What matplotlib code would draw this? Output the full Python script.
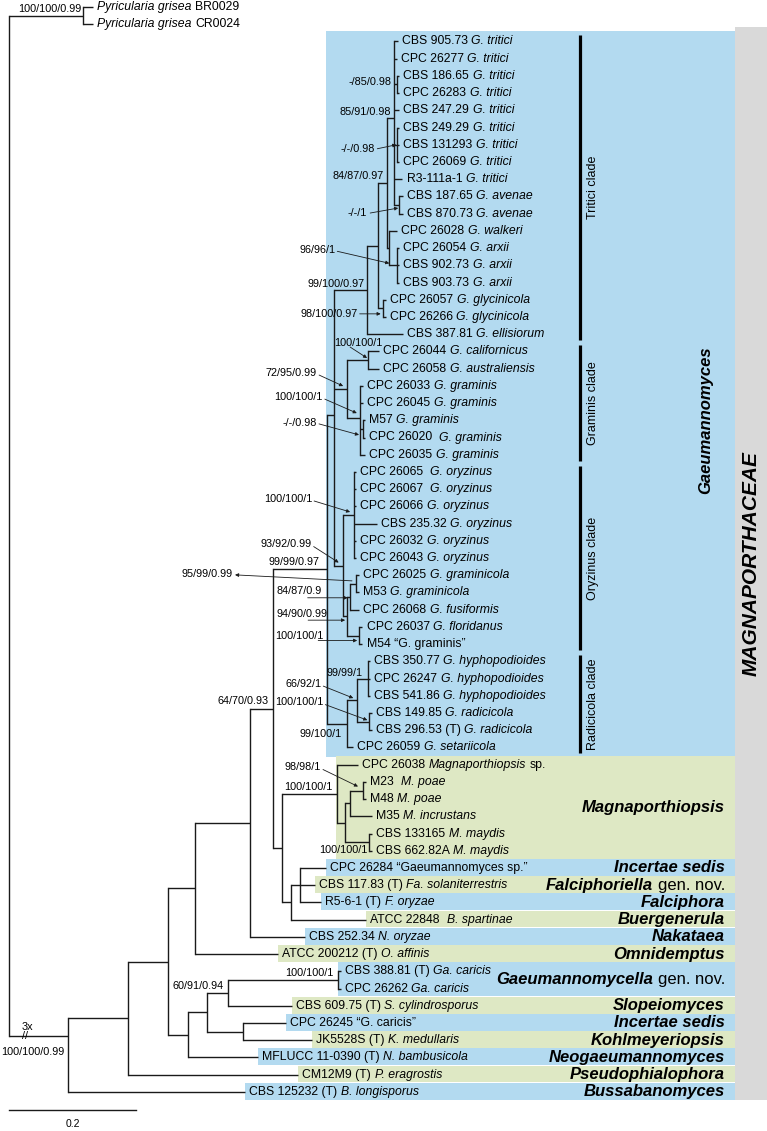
import matplotlib
matplotlib.use("Agg")
import matplotlib.pyplot as plt
from matplotlib.patches import Rectangle

plt.rcParams["font.family"] = ["Liberation Sans", "DejaVu Sans"]

# ---- data -------------------------------------------------------------
# tip labels, top to bottom; text between underscores is italic
TIP_LABELS = [
    "_Pyricularia grisea_ BR0029", "_Pyricularia grisea_ CR0024",
    "CBS 905.73 _G. tritici_", "CPC 26277 _G. tritici_", "CBS 186.65 _G. tritici_",
    "CPC 26283 _G. tritici_", "CBS 247.29 _G. tritici_", "CBS 249.29 _G. tritici_",
    "CBS 131293 _G. tritici_", "CPC 26069 _G. tritici_", "R3-111a-1 _G. tritici_",
    "CBS 187.65 _G. avenae_", "CBS 870.73 _G. avenae_", "CPC 26028 _G. walkeri_",
    "CPC 26054 _G. arxii_", "CBS 902.73 _G. arxii_", "CBS 903.73 _G. arxii_",
    "CPC 26057 _G. glycinicola_", "CPC 26266 _G. glycinicola_", "CBS 387.81 _G. ellisiorum_",
    "CPC 26044 _G. californicus_", "CPC 26058 _G. australiensis_", "CPC 26033 _G. graminis_",
    "CPC 26045 _G. graminis_", "M57 _G. graminis_", "CPC 26020  _G. graminis_",
    "CPC 26035 _G. graminis_", "CPC 26065  _G. oryzinus_", "CPC 26067  _G. oryzinus_",
    "CPC 26066 _G. oryzinus_", "CBS 235.32 _G. oryzinus_", "CPC 26032 _G. oryzinus_",
    "CPC 26043 _G. oryzinus_", "CPC 26025 _G. graminicola_", "M53 _G. graminicola_",
    "CPC 26068 _G. fusiformis_", "CPC 26037 _G. floridanus_", "M54 \u201cG. graminis\u201d",
    "CBS 350.77 _G. hyphopodioides_", "CPC 26247 _G. hyphopodioides_",
    "CBS 541.86 _G. hyphopodioides_", "CBS 149.85 _G. radicicola_",
    "CBS 296.53 (T) _G. radicicola_", "CPC 26059 _G. setariicola_",
    "CPC 26038 _Magnaporthiopsis_ sp.", "M23  _M. poae_", "M48 _M. poae_",
    "M35 _M. incrustans_", "CBS 133165 _M. maydis_", "CBS 662.82A _M. maydis_",
    "CPC 26284 \u201cGaeumannomyces sp.\u201d", "CBS 117.83 (T) _Fa. solaniterrestris_",
    "R5-6-1 (T) _F. oryzae_", "ATCC 22848  _B. spartinae_", "CBS 252.34 _N. oryzae_",
    "ATCC 200212 (T) _O. affinis_", "CBS 388.81 (T) _Ga. caricis_", "CPC 26262 _Ga. caricis_",
    "CBS 609.75 (T) _S. cylindrosporus_", "CPC 26245 \u201cG. caricis\u201d",
    "JK5528S (T) _K. medullaris_", "MFLUCC 11-0390 (T) _N. bambusicola_",
    "CM12M9 (T) _P. eragrostis_", "CBS 125232 (T) _B. longisporus_",
]

# depth (substitutions/site from root) at the end of each tip branch
TIP_DEPTH = [
    0.132, 0.132,
    0.612, 0.610, 0.614, 0.614, 0.614, 0.614, 0.614, 0.614, 0.619, 0.620, 0.620,
    0.611, 0.614, 0.614, 0.614, 0.593, 0.593, 0.620,
    0.582, 0.582, 0.557, 0.557, 0.560, 0.560, 0.560,
    0.546, 0.546, 0.546, 0.579, 0.546, 0.546, 0.551, 0.551, 0.551, 0.556, 0.556,
    0.568, 0.568, 0.568, 0.571, 0.571, 0.541,
    0.549, 0.562, 0.562, 0.571, 0.571, 0.571,
    0.499, 0.481, 0.491, 0.562, 0.465, 0.423, 0.522, 0.522, 0.445,
    0.436, 0.477, 0.392, 0.455, 0.371,
]

# topology: (node, depth, children); ints are tips
TREE = ("root", 0.0, [
    ("pyr", 0.116, [0, 1]),
    ("A", 0.092, [
        ("B", 0.187, [
            ("C", 0.250, [
                ("D", 0.292, [
                    ("J2", 0.379, [
                        ("KK", 0.415, [
                            ("L", 0.500, [
                                ("M", 0.511, [
                                    ("P", 0.563, [
                                        ("Q", 0.581, [
                                            ("R", 0.595, [
                                                ("S", 0.606, [2, 3, ("tri1", 0.611, [4, 5]), 6,
                                                              ("tri2", 0.611, [7, 8, 9]), 10,
                                                              ("ave", 0.614, [11, 12])]),
                                                ("T", 0.598, [13, ("arx", 0.611, [14, 15, 16])]),
                                            ]),
                                            ("gly", 0.588, [17, 18]),
                                        ]),
                                        19,
                                    ]),
                                    ("U", 0.532, [
                                        ("cal", 0.565, [20, 21]),
                                        ("V", 0.552, [22, 23, ("W", 0.557, [24, 25]), 26]),
                                    ]),
                                    ("Y", 0.525, [
                                        ("X", 0.543, [27, 28, 29, 30, 31, 32]),
                                        ("AB", 0.532, [
                                            ("AA", 0.536, [("Z", 0.546, [33, 34]), 35]),
                                            ("AC", 0.551, [36, 37]),
                                        ]),
                                    ]),
                                ]),
                                ("N", 0.532, [
                                    ("NN", 0.548, [("hyp", 0.565, [38, 39, 40]),
                                                   ("rad", 0.567, [41, 42])]),
                                    43,
                                ]),
                            ]),
                            ("AG", 0.430, [
                                ("MG", 0.516, [44, ("AJ", 0.529, [
                                    ("AI", 0.536, [("poa", 0.557, [45, 46]), 47]),
                                    ("may", 0.567, [48, 49]),
                                ])]),
                                ("AE", 0.444, [("AF", 0.458, [50, 51, 52]), 53]),
                            ]),
                        ]),
                        54,
                    ]),
                    55,
                ]),
                ("E", 0.281, [
                    ("F", 0.311, [
                        ("G", 0.345, [("gac", 0.518, [56, 57]), 58]),
                        ("H", 0.368, [59, 60]),
                    ]),
                    61,
                ]),
            ]),
            62,
        ]),
        63,
    ]),
])

# the shortened ingroup stem joins node A off-centre (read in pixels)
STEM_JOIN_PX = {"A": 1036}

# support values: node, text, text offset (px), alignment, arrow (start/end px, style)
SUPPORTS = [
    ("pyr", "100/100/0.99", -2, -7, "right", None),
    ("tri1", "-/85/0.98", -6, -2, "right", None),
    ("S", "85/91/0.98", -3, -6, "right", None),
    ("tri2", "-/-/0.98", -22, 4, "right", (-20, 4, -1, 0, "-|>")),
    ("R", "84/87/0.97", -3, -7, "right", None),
    ("ave", "-/-/1", -32, 8, "right", (-29, 8, -1, 3, "-|>")),
    ("arx", "96/96/1", -62, -15, "right", (-60, -14, -8, -2, "-|>")),
    ("P", "99/100/0.97", -2, -6, "right", None),
    ("gly", "98/100/0.97", -25, 5.5, "right", (-23, 5.5, -2, 5.5, "-|>")),
    ("cal", "100/100/1", 14, -17.5, "right", (-18, -13, -1, -2, "-|>")),
    ("U", "72/95/0.99", -30, -16, "right", (-28, -14, -4, -3, "-|>")),
    ("V", "100/100/1", -37, -21, "right", (-35, -19, -3, -5, "-|>")),
    ("W", "-/-/0.98", -46, -6, "right", (-44, -5, -4, 6, "-|>")),
    ("X", "100/100/1", -42, -16, "right", (-40, -14, -4, -3, "-|>")),
    ("Y", "93/92/0.99", -31, -22, "right", (-29, -19, -4, -3, "-|>")),
    ("L", "99/99/0.97", -7, -7, "right", None),
    ("Z", "95/99/0.99", -123, -9.5, "right", (-121, -9, -4, -3, "<|-")),
    ("AA", "84/87/0.9", -28, -6, "right", (-42, 1, -2, 1, "-|>")),
    ("AB", "94/90/0.99", -20, -2, "right", (-39, 4, -2, 4, "-|>")),
    ("AC", "100/100/1", -36, 0, "right", (-41, 5, -2, 5, "-|>")),
    ("hyp", "99/99/1", -5, -6, "right", None),
    ("NN", "66/92/1", -36, -16, "right", (-34, -14, -4, -2, "-|>")),
    ("rad", "100/100/1", -46, -19.5, "right", (-44, -17, -2, -1.5, "-|>")),
    ("N", "99/100/1", -5, 10, "right", None),
    ("poa", "98/98/1", -42, -23.5, "right", (-40, -21, -5, -4, "-|>")),
    ("MG", "100/100/1", -4, -7, "right", None),
    ("may", "100/100/1", -2, 8, "right", None),
    ("KK", "64/70/0.93", -4, -8, "right", None),
    ("gac", "100/100/1", -5, -6.5, "right", None),
    ("G", "60/91/0.94", -5, -7, "right", None),
]

# shaded genus rows: name, suffix, first tip, last tip, colour, box start node/tip
BLUE, GREEN, GREY = "#b3daf0", "#dee8c4", "#d9d9d9"
GENERA = [
    ("Magnaporthiopsis", "", 44, 49, GREEN, "MG"),
    ("Incertae sedis", "", 50, 50, BLUE, 50),
    ("Falciphoriella", "gen. nov.", 51, 51, GREEN, 51),
    ("Falciphora", "", 52, 52, BLUE, 52),
    ("Buergenerula", "", 53, 53, GREEN, 53),
    ("Nakataea", "", 54, 54, BLUE, 54),
    ("Omnidemptus", "", 55, 55, GREEN, 55),
    ("Gaeumannomycella", "gen. nov.", 56, 57, BLUE, "gac"),
    ("Slopeiomyces", "", 58, 58, GREEN, 58),
    ("Incertae sedis", "", 59, 59, BLUE, 59),
    ("Kohlmeyeriopsis", "", 60, 60, GREEN, 60),
    ("Neogaeumannomyces", "", 61, 61, BLUE, 61),
    ("Pseudophialophora", "", 62, 62, GREEN, 62),
    ("Bussabanomyces", "", 63, 63, BLUE, 63),
]
CLADES = [("Tritici clade", 2, 19), ("Graminis clade", 20, 26),
          ("Oryzinus clade", 27, 37), ("Radicicola clade", 38, 43)]

# ---- layout -----------------------------------------------------------
W_PX, H_PX = 767, 1131
ROOT_PX, UNIT_PX = 9.3, 635.0      # scale bar: 0.2 = 127 px
Y0_PX, ROW_PX = 7.0, 17.22
XMIN, XMAX = -ROOT_PX / UNIT_PX, (W_PX - ROOT_PX) / UNIT_PX
PX = (XMAX - XMIN) / W_PX
PY = 1.0 / ROW_PX
LINE = "#1a1a1a"
TIP_FS, SUP_FS, GEN_FS = 8.8, 7.8, 12


def px2x(p):
    return XMIN + p * PX


def px2y(p):
    return (p - Y0_PX) * PY


fig = plt.figure(figsize=(W_PX / 100, H_PX / 100), dpi=100)
ax = fig.add_axes([0, 0, 1, 1])
ax.set_xlim(XMIN, XMAX)
ax.set_ylim(px2y(H_PX), px2y(0))
ax.axis("off")

pos = {}


def layout(node):
    if isinstance(node, int):
        return TIP_DEPTH[node], float(node)
    name, depth, kids = node
    ys = [layout(k)[1] for k in kids]
    pos[name] = (depth, sum(ys) / len(ys))
    return pos[name]


def stem_y(k):
    if isinstance(k, int):
        return float(k)
    if k[0] in STEM_JOIN_PX:
        return px2y(STEM_JOIN_PX[k[0]])
    return pos[k[0]][1]


def draw(node):
    if isinstance(node, int):
        return
    name, depth, kids = node
    x = pos[name][0]
    pts = [(TIP_DEPTH[k] if isinstance(k, int) else pos[k[0]][0], stem_y(k)) for k in kids]
    ys = [p[1] for p in pts]
    ax.plot([x, x], [min(ys), max(ys)], color=LINE, lw=1.0, solid_capstyle="projecting", zorder=3)
    for cx, cy in pts:
        ax.plot([x, cx], [cy, cy], color=LINE, lw=1.0, solid_capstyle="butt", zorder=3)
    for k in kids:
        draw(k)


layout(TREE)
draw(TREE)

# shaded boxes
right = px2x(735)
gx0 = pos["L"][0] - 0.001
ax.add_patch(Rectangle((gx0, 2 - 0.62), right - gx0, 43 - 2 + 1.17, color=BLUE, lw=0, zorder=1))
for name, suf, a, b, col, start in GENERA:
    x0 = TIP_DEPTH[start] if isinstance(start, int) else pos[start][0] - 0.001
    ax.add_patch(Rectangle((x0, a - 0.52), right - x0, b - a + 0.97, color=col, lw=0, zorder=1))
    yc = (a + b) / 2
    if suf:
        s = ax.text(px2x(725), yc, suf, ha="right", va="center", fontsize=GEN_FS, zorder=4)
        ax.annotate(name, xy=(0, 0.5), xycoords=s, xytext=(-3.3, 0), textcoords="offset points",
                    ha="right", va="center", fontsize=GEN_FS, fontweight="bold", fontstyle="italic")
    else:
        ax.text(px2x(725), yc, name, ha="right", va="center", fontsize=GEN_FS,
                fontweight="bold", fontstyle="italic", zorder=4)
ax.add_patch(Rectangle((right, 2 - 0.85), XMAX - right, 63 + 0.45 - 2 + 0.85, color=GREY, lw=0, zorder=1))

ax.text(px2x(706), px2y(420), "Gaeumannomyces", rotation=90, ha="center", va="center",
        fontsize=GEN_FS, fontweight="bold", fontstyle="italic")
ax.text(px2x(751), (2 - 0.85 + 63.45) / 2, "MAGNAPORTHACEAE", rotation=90, ha="center", va="center",
        fontsize=15, fontweight="bold", fontstyle="italic")

# clade bars
for name, a, b in CLADES:
    ax.plot([px2x(580)] * 2, [a - 0.35, b + 0.35], color="black", lw=2.3, solid_capstyle="butt")
    ax.text(px2x(593), (a + b) / 2, name, rotation=90, ha="center", va="center", fontsize=9)


# tip labels with mixed roman / italic segments
def tip_label(x, y, markup):
    prev, gap = None, 3.0
    for k, part in enumerate(markup.split("_")):
        if not part.strip():
            gap += part.count(" ") * 0.278 * TIP_FS
            continue
        gap += (len(part) - len(part.lstrip(" "))) * 0.278 * TIP_FS
        style = "italic" if k % 2 else "normal"
        if prev is None:
            prev = ax.annotate(part.strip(), xy=(x, y), xytext=(gap, 0), textcoords="offset points",
                               ha="left", va="center", fontsize=TIP_FS, fontstyle=style, zorder=4)
        else:
            prev = ax.annotate(part.strip(), xy=(1, 0.5), xycoords=prev, xytext=(gap, 0),
                               textcoords="offset points", ha="left", va="center",
                               fontsize=TIP_FS, fontstyle=style, zorder=4)
        gap = (len(part) - len(part.rstrip(" "))) * 0.278 * TIP_FS


for i, lab in enumerate(TIP_LABELS):
    tip_label(TIP_DEPTH[i], i, lab)

# support values
for node, text, dx, dy, ha, arrow in SUPPORTS:
    nx, ny = pos[node]
    ax.annotate(text, xy=(nx, ny), xytext=(dx * 0.72, -dy * 0.72), textcoords="offset points",
                ha=ha, va="center", fontsize=SUP_FS, zorder=5)
    if arrow:
        sx, sy, ex, ey, style = arrow
        ax.annotate("", xy=(nx + ex * PX, ny + ey * PY), xytext=(nx + sx * PX, ny + sy * PY),
                    arrowprops=dict(arrowstyle=style, color=LINE, lw=0.6, shrinkA=0, shrinkB=0,
                                    mutation_scale=5))

# shortened ingroup stem
sy_ = px2y(STEM_JOIN_PX["A"])
ax.text(px2x(27), sy_ - 9 * PY, "3x", ha="center", va="center", fontsize=SUP_FS)
ax.text(px2x(25), sy_, "//", ha="center", va="center", fontsize=SUP_FS)
ax.text(px2x(33), sy_ + 16 * PY, "100/100/0.99", ha="center", va="center", fontsize=SUP_FS)

# scale bar
ax.plot([0, 0.2], [px2y(1110)] * 2, color=LINE, lw=1.0)
ax.text(0.1, px2y(1124), "0.2", ha="center", va="center", fontsize=7.5)

fig.savefig("out.png", dpi=100)
